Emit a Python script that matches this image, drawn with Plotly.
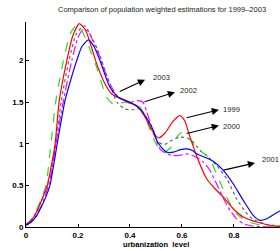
import plotly.graph_objects as go

# ---- data ----
x_1999 = [0, 0.02, 0.041, 0.06, 0.082, 0.1, 0.112, 0.128, 0.157, 0.18, 0.205, 0.23, 0.25, 0.27, 0.304, 0.33, 0.374, 0.4, 0.426, 0.458, 0.485, 0.509, 0.535, 0.565, 0.592, 0.61, 0.631, 0.663, 0.695, 0.727, 0.759, 0.797, 0.836, 0.887, 0.95, 0.98]
y_1999 = [0.03, 0.08, 0.18, 0.32, 0.5, 0.78, 1.0, 1.52, 2.0, 2.3, 2.445, 2.36, 2.18, 1.98, 1.72, 1.6, 1.53, 1.49, 1.46, 1.32, 1.16, 1.07, 1.13, 1.27, 1.34, 1.28, 1.08, 0.8, 0.58, 0.46, 0.36, 0.22, 0.12, 0.06, 0.015, 0.005]

x_2000 = [0, 0.02, 0.04, 0.06, 0.077, 0.096, 0.115, 0.144, 0.17, 0.195, 0.22, 0.25, 0.272, 0.31, 0.34, 0.375, 0.41, 0.438, 0.458, 0.477, 0.5, 0.528, 0.555, 0.58, 0.6, 0.63, 0.66, 0.69, 0.708, 0.727, 0.746, 0.778, 0.81, 0.849, 0.9, 0.98]
y_2000 = [0.03, 0.09, 0.2, 0.35, 0.5, 1.0, 1.52, 2.0, 2.32, 2.43, 2.33, 2.1, 1.92, 1.56, 1.47, 1.5, 1.48, 1.44, 1.33, 1.17, 1.0, 0.9, 0.95, 1.08, 1.14, 1.05, 0.94, 0.87, 0.82, 0.68, 0.54, 0.32, 0.16, 0.07, 0.025, 0.005]

x_2001 = [0, 0.02, 0.04, 0.06, 0.075, 0.092, 0.105, 0.12, 0.15, 0.175, 0.195, 0.215, 0.24, 0.26, 0.285, 0.305, 0.323, 0.355, 0.4, 0.438, 0.47, 0.49, 0.503, 0.52, 0.541, 0.567, 0.595, 0.618, 0.64, 0.656, 0.695, 0.72, 0.759, 0.797, 0.836, 0.874, 0.9, 0.926, 0.958, 0.98]
y_2001 = [0.02, 0.06, 0.13, 0.25, 0.35, 0.5, 0.72, 1.0, 1.52, 1.8, 2.0, 2.17, 2.25, 2.18, 2.0, 1.82, 1.68, 1.56, 1.5, 1.42, 1.28, 1.16, 1.04, 0.96, 0.9, 0.9, 0.93, 0.94, 0.92, 0.88, 0.83, 0.79, 0.68, 0.52, 0.32, 0.14, 0.08, 0.1, 0.16, 0.2]

x_2002 = [0, 0.02, 0.04, 0.06, 0.085, 0.1, 0.115, 0.144, 0.176, 0.2, 0.22, 0.24, 0.265, 0.285, 0.3, 0.323, 0.355, 0.4, 0.43, 0.45, 0.465, 0.49, 0.515, 0.541, 0.564, 0.59, 0.618, 0.64, 0.656, 0.682, 0.708, 0.733, 0.76, 0.785, 0.81, 0.836, 0.87, 0.92, 0.98]
y_2002 = [0.02, 0.06, 0.14, 0.26, 0.48, 0.68, 1.0, 1.52, 2.0, 2.28, 2.38, 2.35, 2.18, 2.04, 1.9, 1.72, 1.56, 1.5, 1.52, 1.5, 1.38, 1.14, 0.94, 0.88, 0.86, 0.86, 0.88, 0.86, 0.84, 0.78, 0.68, 0.52, 0.34, 0.2, 0.1, 0.04, 0.012, 0.003, 0.0]

x_2003 = [0, 0.02, 0.04, 0.06, 0.08, 0.1, 0.115, 0.135, 0.165, 0.195, 0.225, 0.25, 0.28, 0.3, 0.325, 0.35, 0.38, 0.41, 0.44, 0.465, 0.49, 0.51, 0.53, 0.56, 0.59, 0.63, 0.67, 0.695, 0.733, 0.772, 0.81, 0.84, 0.87, 0.92, 0.98]
y_2003 = [0.03, 0.08, 0.18, 0.32, 0.48, 0.75, 1.0, 1.5, 2.0, 2.33, 2.42, 2.3, 2.1, 1.92, 1.7, 1.5, 1.42, 1.41, 1.42, 1.3, 1.12, 1.02, 0.99, 1.04, 1.08, 1.06, 0.92, 0.86, 0.74, 0.58, 0.34, 0.2, 0.1, 0.035, 0.01]

series_names = ["1999", "2000", "2001", "2002", "2003"]
series_x = [x_1999, x_2000, x_2001, x_2002, x_2003]
series_y = [y_1999, y_2000, y_2001, y_2002, y_2003]
series_colors = ["#ff0000", "#22dd22", "#0000ff", "#ff00ff", "#666666"]
series_dash = ["solid", "dash", "solid", "dashdot", "dot"]
draw_order = [4, 3, 1, 0, 2]

# label arrows: (tail x, tail y, head x, head y, text x, text y)
label_names = ["2003", "2002", "1999", "2000", "2001"]
arrow_tail_x = [0.355, 0.45, 0.612, 0.612, 0.754]
arrow_tail_y = [1.62, 1.50, 1.31, 1.12, 0.68]
arrow_head_x = [0.458, 0.573, 0.742, 0.742, 0.881]
arrow_head_y = [1.77, 1.62, 1.41, 1.22, 0.77]
label_x = [0.485, 0.587, 0.752, 0.752, 0.904]
label_y = [1.80, 1.64, 1.415, 1.21, 0.81]

x_ticks = [0, 0.2, 0.4, 0.6, 0.8]
y_ticks = [0, 0.5, 1, 1.5, 2]

fig = go.Figure()
for i in draw_order:
    fig.add_trace(go.Scatter(
        x=series_x[i], y=series_y[i], mode="lines", name=series_names[i],
        line=dict(color=series_colors[i], dash=series_dash[i], width=1.2, shape="spline", smoothing=0.6),
        showlegend=False, hoverinfo="skip"))

annotations = []
for k in range(len(label_names)):
    annotations.append(dict(
        x=arrow_head_x[k], y=arrow_head_y[k], ax=arrow_tail_x[k], ay=arrow_tail_y[k],
        xref="x", yref="y", axref="x", ayref="y", text="", showarrow=True,
        arrowhead=2, arrowsize=1.3, arrowwidth=1.1, arrowcolor="#000000"))
    annotations.append(dict(
        x=label_x[k], y=label_y[k], xref="x", yref="y", text=label_names[k],
        showarrow=False, xanchor="left", yanchor="middle", borderpad=0,
        font=dict(family="Liberation Sans, Arial", size=7.6, color="#222222")))

PLOT_TOP = 22
PLOT_H = 205
PLOT_L = 26
PLOT_W = 254

def px_to_paper(px, py):
    return (px - PLOT_L) / PLOT_W, (PLOT_TOP + PLOT_H - py) / PLOT_H

tx, ty = px_to_paper(161.5, 10)
annotations.append(dict(
    x=tx, y=ty, xref="paper", yref="paper",
    text="Comparison of population weighted estimations for 1999\u20132003",
    showarrow=False, xanchor="center", yanchor="middle", borderpad=0,
    font=dict(family="Liberation Sans, Arial", size=7.5, color="#222222")))
lx, ly = px_to_paper(155.5, 244)
annotations.append(dict(
    x=lx, y=ly, xref="paper", yref="paper",
    text="urbanization&nbsp;&nbsp;level",
    showarrow=False, xanchor="center", yanchor="middle", borderpad=0,
    font=dict(family="Liberation Sans, Arial", size=7.6, color="#000000", weight="bold")))

fig.update_layout(
    width=280, height=251,
    margin=dict(l=PLOT_L, r=280 - PLOT_L - PLOT_W, t=PLOT_TOP, b=251 - PLOT_TOP - PLOT_H, pad=0),
    paper_bgcolor="white", plot_bgcolor="white",
    annotations=annotations,
    xaxis=dict(range=[0, 0.977], tickvals=x_ticks, ticktext=[f"{v:g}" for v in x_ticks],
               showgrid=False, zeroline=False, showline=True, linecolor="black", linewidth=1,
               ticks="inside", ticklen=3, tickcolor="black",
               tickfont=dict(family="Liberation Sans, Arial", size=8, color="black", weight="bold")),
    yaxis=dict(range=[0, 2.465], tickvals=y_ticks, ticktext=[f"{v:g}" for v in y_ticks],
               showgrid=False, zeroline=False, showline=True, linecolor="black", linewidth=1,
               ticks="inside", ticklen=3, tickcolor="black",
               tickfont=dict(family="Liberation Sans, Arial", size=8, color="black", weight="bold")),
)

fig.write_html("out.html", config={"displayModeBar": False, "staticPlot": True},
               post_script="document.body.style.margin='0';document.body.style.overflow='hidden';")
